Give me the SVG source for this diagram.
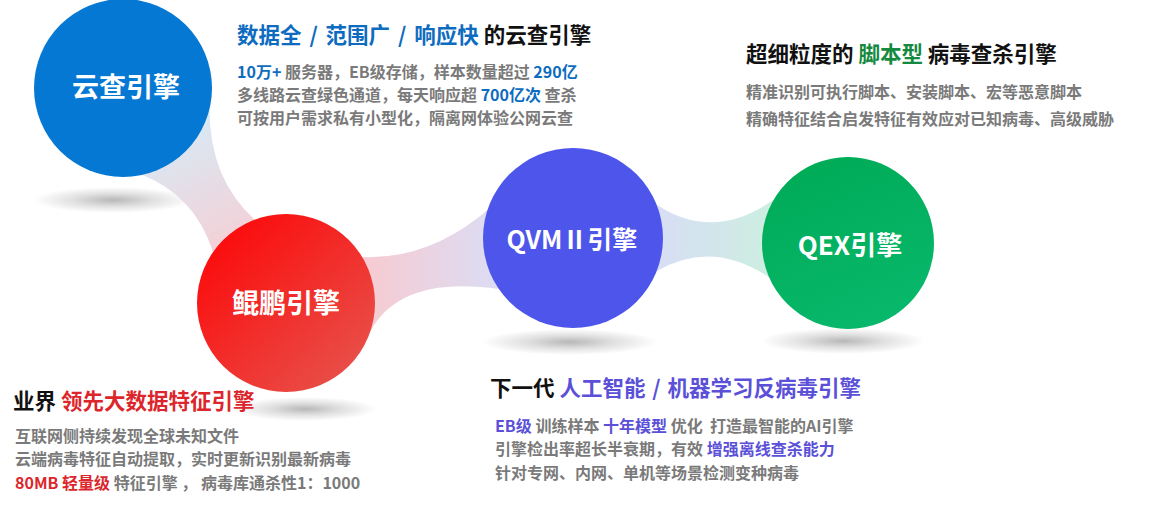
<svg xmlns="http://www.w3.org/2000/svg" width="1172" height="505" viewBox="0 0 1172 505">
<style>
text{font-family:"Noto Sans CJK SC","Microsoft YaHei",sans-serif;font-weight:700;white-space:pre}
.h{font-size:21.5px;fill:#111}
.b{font-size:16px;fill:#7a7a7a}
.lbl{fill:#fff;text-anchor:middle}
.blue{fill:#0e6cc0}
.red{fill:#dc262c}
.green{fill:#148a3e}
.purple{fill:#5b50d8}
</style>
<defs>
<radialGradient id="sh" cx="0.5" cy="0.5" r="0.5">
<stop offset="0" stop-color="#000" stop-opacity="0.28"/>
<stop offset="0.5" stop-color="#000" stop-opacity="0.12"/>
<stop offset="1" stop-color="#000" stop-opacity="0"/>
</radialGradient>
<linearGradient id="g1" gradientUnits="userSpaceOnUse" x1="170" y1="110" x2="235" y2="250">
<stop offset="0" stop-color="#d4edf9"/>
<stop offset="1" stop-color="#f5cfd5"/>
</linearGradient>
<linearGradient id="g2" gradientUnits="userSpaceOnUse" x1="365" y1="0" x2="495" y2="0">
<stop offset="0" stop-color="#f7cbd1"/>
<stop offset="1" stop-color="#dcdcf4"/>
</linearGradient>
<linearGradient id="g3" gradientUnits="userSpaceOnUse" x1="660" y1="0" x2="775" y2="0">
<stop offset="0" stop-color="#d8def4"/>
<stop offset="1" stop-color="#ccefe0"/>
</linearGradient>
<linearGradient id="cRed" x1="0.15" y1="0.1" x2="0.9" y2="0.9">
<stop offset="0" stop-color="#fb0c0c"/>
<stop offset="1" stop-color="#e8504a"/>
</linearGradient>
<linearGradient id="cGreen" x1="0.3" y1="0" x2="0.7" y2="1">
<stop offset="0" stop-color="#00ab57"/>
<stop offset="1" stop-color="#08b86c"/>
</linearGradient>
</defs>

<g id="shadows">
<ellipse cx="113" cy="200" rx="80" ry="13" fill="url(#sh)"/>
<ellipse cx="305" cy="409" rx="72" ry="12" fill="url(#sh)"/>
<ellipse cx="570" cy="342" rx="88" ry="13" fill="url(#sh)"/>
<ellipse cx="843" cy="341" rx="82" ry="13" fill="url(#sh)"/>
</g>

<g id="connectors">
<path d="M 210 95 Q 205 175 255 220 L 250 280 L 213 252 Q 195 195 140 174 L 150 120 Z" fill="url(#g1)"/>
<path d="M 362 257 Q 430 260 490 208 L 540 240 L 499 289 Q 400 275 370 332 L 320 300 Z" fill="url(#g2)"/>
<path d="M 657 205 Q 714 242 773 200 L 800 243 L 773 280 Q 714 238 657 271 L 620 238 Z" fill="url(#g3)"/>
</g>

<g id="node-cloud">
<circle cx="123" cy="88" r="89" fill="#0578d4"/>
<text class="lbl" x="126" y="97" font-size="27">云查引擎</text>
</g>
<g id="node-kunpeng">
<circle cx="286" cy="303" r="89" fill="url(#cRed)"/>
<text class="lbl" x="286" y="313" font-size="27">鲲鹏引擎</text>
</g>
<g id="node-qvm">
<circle cx="573" cy="238" r="90" fill="#4e55eb"/>
<text class="lbl" x="572" y="249" font-size="25">QVMⅡ引擎</text>
</g>
<g id="node-qex">
<circle cx="848" cy="243" r="86" fill="url(#cGreen)"/>
<text class="lbl" x="850" y="255" font-size="26">QEX引擎</text>
</g>

<g id="text-cloud">
<text class="h" x="237" y="43"><tspan class="blue">数据全 <tspan dx="3">/</tspan> <tspan dx="3">范围广</tspan> <tspan dx="3">/</tspan> <tspan dx="3">响应快</tspan></tspan> 的云查引擎</text>
<text class="b" x="237" y="78"><tspan class="blue">10万+</tspan> 服务器，EB级存储，样本数量超过 <tspan class="blue">290亿</tspan></text>
<text class="b" x="237" y="101">多线路云查绿色通道，每天响应超 <tspan class="blue">700亿次</tspan> 查杀</text>
<text class="b" x="237" y="124">可按用户需求私有小型化，隔离网体验公网云查</text>
</g>

<g id="text-qex">
<text class="h" x="746" y="62">超细粒度的 <tspan class="green">脚本型</tspan> 病毒查杀引擎</text>
<text class="b" x="746" y="98">精准识别可执行脚本、安装脚本、宏等恶意脚本</text>
<text class="b" x="746" y="125">精确特征结合启发特征有效应对已知病毒、高级威胁</text>
</g>

<g id="text-kunpeng">
<text class="h" x="13" y="409">业界 <tspan class="red">领先大数据特征引擎</tspan></text>
<text class="b" x="15" y="442">互联网侧持续发现全球未知文件</text>
<text class="b" x="15" y="465">云端病毒特征自动提取，实时更新识别最新病毒</text>
<text class="b" x="15" y="489"><tspan class="red">80MB 轻量级</tspan> 特征引擎 ， 病毒库通杀性1：1000</text>
</g>

<g id="text-qvm">
<text class="h" x="490" y="396">下一代 <tspan class="purple">人工智能 <tspan dx="2">/</tspan> <tspan dx="2">机器学习反病毒引擎</tspan></tspan></text>
<text class="b" x="495" y="432"><tspan class="purple">EB级</tspan> 训练样本 <tspan class="purple">十年模型</tspan> 优化  打造最智能的AI引擎</text>
<text class="b" x="495" y="455">引擎检出率超长半衰期，有效 <tspan class="purple">增强离线查杀能力</tspan></text>
<text class="b" x="495" y="479">针对专网、内网、单机等场景检测变种病毒</text>
</g>
</svg>
